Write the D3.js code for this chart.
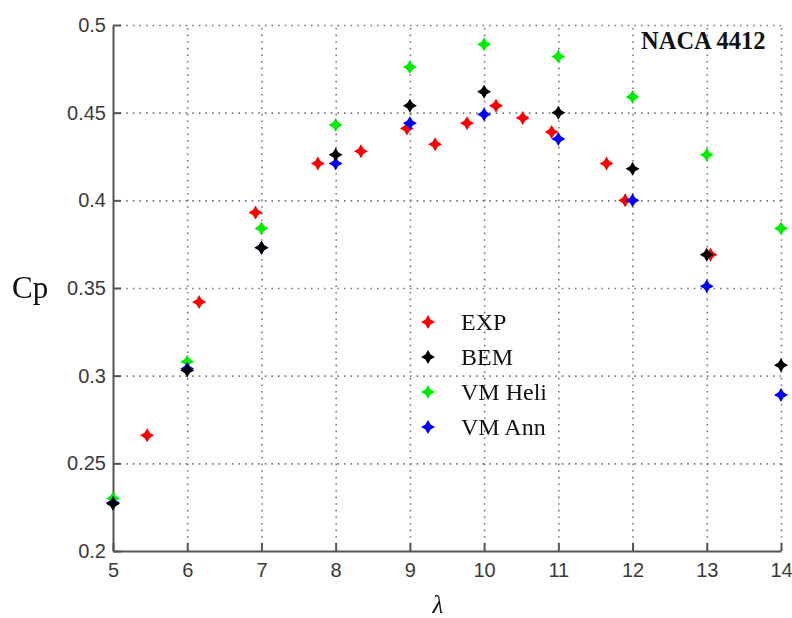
<!DOCTYPE html>
<meta charset="utf-8">
<html>
  <head>
    <title>NACA 4412 Cp</title>
    <script src="https://d3js.org/d3.v7.min.js"></script>
    <style type="text/css">
      body{
        margin: 0;
        background: #fff;
      }
      .axis path, .axis line {
        fill: none;
        stroke: #555;
        stroke-width: 2;
      }
      .axis text{
        font-family: "Liberation Sans", Arial, sans-serif;
        font-size: 20px;
        fill: #3a3a3a;
      }
      .grid line{
        stroke: #777;
        stroke-width: 1.6;
        stroke-dasharray: 1.6,5;
      }
      .grid path{
        display: none;
      }
      .serif{
        font-family: "Liberation Serif", "Times New Roman", serif;
        fill: #111;
      }
    </style>
  </head>
  <body>
    <div id="plot"></div>
  </body>

  <script>
    // tip speed ratio ticks and Cp ticks
    var lambdaTicks = [5, 6, 7, 8, 9, 10, 11, 12, 13, 14];
    var cpTicks = [0.2, 0.25, 0.3, 0.35, 0.4, 0.45, 0.5];

    // experiment (own lambda values)
    var expLambda = [5.46, 6.16, 6.92, 7.76, 8.34, 8.96, 9.34, 9.77, 10.16, 10.52, 10.91, 11.65, 11.9, 13.05];
    var expCp     = [0.266, 0.342, 0.393, 0.421, 0.428, 0.441, 0.432, 0.444, 0.454, 0.447, 0.439, 0.421, 0.400, 0.369];

    // models, evaluated at lambdaTicks
    var bemCp  = [0.227, 0.303, 0.373, 0.426, 0.454, 0.462, 0.450, 0.418, 0.369, 0.306];
    var heliCp = [0.230, 0.308, 0.384, 0.443, 0.476, 0.489, 0.482, 0.459, 0.426, 0.384];
    var annCp  = [0.2275, 0.304, 0.373, 0.421, 0.444, 0.449, 0.435, 0.400, 0.351, 0.289];

    var seriesNames = ["EXP", "BEM", "VM Heli", "VM Ann"];
    var seriesColors = ["#ff0000", "#000000", "#00ee00", "#0000ff"];

    var margin = {top:25, right:11, bottom:67, left:113},
        width = 792-margin.left-margin.right,
        height = 618-margin.top-margin.bottom;

    var root = d3.select("#plot").append("svg")
        .attr("width", 792)
        .attr("height", 618);

    // slight blur, the original is a soft screenshot
    root.append("defs").append("filter")
        .attr("id","soft")
      .append("feGaussianBlur")
        .attr("stdDeviation", 0.6);

    var svg = root.append("g")
        .attr("transform","translate("+margin.left+","+margin.top+")");

    var xScale = d3.scaleLinear().domain([5,14]).range([0,width]);
    var yScale = d3.scaleLinear().domain([0.2,0.5]).range([height,0]);
    var color = d3.scaleOrdinal().domain(seriesNames).range(seriesColors);

    //grid
    svg.append("g")
       .attr("class","grid")
       .attr("transform","translate(0,"+height+")")
       .call(d3.axisBottom(xScale).tickValues(lambdaTicks.slice(1)).tickSize(-height).tickFormat(""));
    svg.append("g")
       .attr("class","grid")
       .call(d3.axisLeft(yScale).tickValues(cpTicks.slice(1)).tickSize(-width).tickFormat(""));

    // x-axis, ticks pointing inward
    var xAxis = svg.append("g")
        .attr("class","x axis")
        .attr("transform","translate(0,"+height+")")
        .call(d3.axisBottom(xScale).tickValues(lambdaTicks).tickSize(-8).tickSizeOuter(0).tickPadding(12));
    xAxis.selectAll("text").attr("dy","0.71em");

    // y-axis
    svg.append("g")
        .attr("class","y axis")
        .call(d3.axisLeft(yScale).tickValues(cpTicks).tickSize(-8).tickSizeOuter(0).tickPadding(7)
              .tickFormat(function(d){ return String(+d.toFixed(2)); }));

    // axis labels
    root.append("text")
        .attr("class","serif")
        .attr("x",12)
        .attr("y",298)
        .style("font-size","31px")
        .text("Cp");

    root.append("text")
        .attr("class","serif")
        .attr("x",438)
        .attr("y",613)
        .style("font-size","25px")
        .style("font-style","italic")
        .style("text-anchor","middle")
        .text("λ");

    svg.append("text")
        .attr("class","serif")
        .attr("x",528)
        .attr("y",24)
        .style("font-size","24.5px")
        .style("font-weight","bold")
        .text("NACA 4412");

    // four point star marker
    var r = 7, w = 2.6;
    var star = "M0,"+(-r)+"L"+w+","+(-w)+"L"+r+",0L"+w+","+w+"L0,"+r+"L"+(-w)+","+w+"L"+(-r)+",0L"+(-w)+","+(-w)+"Z";

    var expData = expLambda.map(function(l,i){ return {name:"EXP", x:l, y:expCp[i]}; });
    function modelData(name, vals){
      return lambdaTicks.map(function(l,i){ return {name:name, x:l, y:vals[i]}; });
    }
    var allData = expData
        .concat(modelData("VM Heli", heliCp))
        .concat(modelData("VM Ann", annCp))
        .concat(modelData("BEM", bemCp));

    svg.append("g")
       .attr("filter","url(#soft)")
      .selectAll(".dot")
       .data(allData)
      .enter().append("path")
       .attr("class","dot")
       .attr("d", star)
       .attr("transform", function(d){ return "translate("+xScale(d.x)+","+yScale(d.y)+")"; })
       .style("fill", function(d){ return color(d.name); });

    // legend
    var legend = svg.selectAll(".legend")
       .data(seriesNames)
      .enter().append("g")
       .attr("class","legend")
       .attr("transform", function(d,i){ return "translate(315,"+(297+i*35)+")"; });

    legend.append("path")
       .attr("d", star)
       .attr("filter","url(#soft)")
       .style("fill", color);

    legend.append("text")
       .attr("class","serif")
       .attr("x",33)
       .attr("y",0)
       .attr("dy","0.35em")
       .style("font-size","24px")
       .text(function(d){ return d; });
  </script>
</html>
